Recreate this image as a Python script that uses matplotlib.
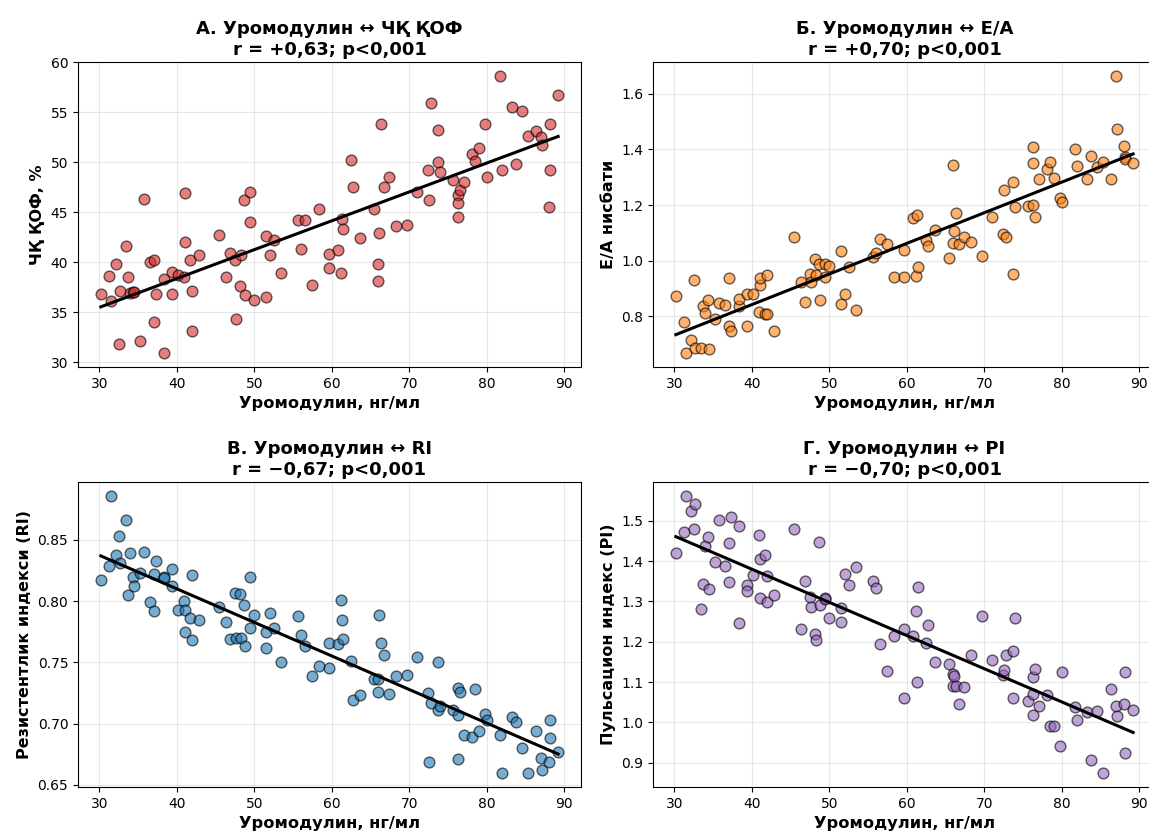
import numpy as np
import matplotlib
matplotlib.use("Agg")
import matplotlib.pyplot as plt

# Uromodulin (ng/ml), shared by all four panels
uromodulin = [30.2, 31.2, 31.5, 32.1, 32.6, 32.7, 33.4, 33.75, 34.0, 34.4,
              34.5, 35.3, 35.8, 36.5, 37.0, 37.1, 37.3, 38.4, 38.4, 39.35,
              39.35, 40.2, 40.9, 41.0, 41.0, 41.7, 41.9, 42.0, 42.8, 45.5,
              46.3, 46.9, 47.5, 47.6, 48.2, 48.3, 48.7, 48.75, 49.5, 49.5,
              49.9, 51.5, 51.5, 52.0, 52.6, 53.4, 55.7, 56.0, 56.5, 57.5,
              58.4, 59.6, 59.6, 60.8, 61.2, 61.3, 61.4, 62.5, 62.75, 63.65,
              65.5, 65.9, 65.9, 66.1, 66.4, 66.7, 67.4, 68.3, 69.7, 71.0,
              72.4, 72.5, 72.8, 73.7, 73.75, 74.0, 75.6, 76.3, 76.3, 76.3,
              76.6, 77.1, 78.1, 78.5, 79.0, 79.7, 80.0, 81.75, 82.0, 83.25,
              83.8, 84.6, 85.3, 86.4, 87.0, 87.1, 88.0, 88.2, 88.2, 89.2]

# A. LV ejection fraction, %
lvef = [36.8, 38.6, 36.1, 39.8, 31.8, 37.1, 41.6, 38.5, 36.9, 37.0,
        37.0, 32.1, 46.3, 40.0, 34.0, 40.2, 36.8, 38.3, 30.9, 39.0,
        36.8, 38.7, 38.5, 46.9, 42.0, 40.2, 33.1, 37.1, 40.7, 42.7,
        38.5, 40.9, 40.2, 34.3, 37.6, 40.7, 46.2, 36.7, 47.0, 44.0,
        36.2, 42.6, 36.5, 40.7, 42.2, 38.9, 44.2, 41.3, 44.2, 37.7,
        45.3, 40.8, 39.4, 41.2, 38.9, 44.3, 43.3, 50.2, 47.5, 42.4,
        45.3, 39.8, 38.1, 42.9, 53.8, 47.5, 48.5, 43.6, 43.7, 47.0,
        49.2, 46.2, 55.9, 50.0, 53.2, 49.0, 48.2, 46.7, 45.9, 44.5,
        47.2, 48.0, 50.8, 50.1, 51.4, 53.8, 48.5, 58.6, 49.2, 55.5,
        49.8, 55.1, 52.6, 53.1, 52.5, 51.7, 45.5, 53.8, 49.2, 56.7]

# B. E/A ratio
ea_ratio = [0.874, 0.780, 0.667, 0.713, 0.929, 0.684, 0.684, 0.835, 0.813, 0.859,
            0.681, 0.790, 0.847, 0.840, 0.766, 0.938, 0.747, 0.836, 0.862, 0.764,
            0.881, 0.881, 0.814, 0.914, 0.938, 0.808, 0.807, 0.947, 0.747, 1.085,
            0.923, 0.851, 0.952, 0.923, 1.006, 0.950, 0.988, 0.859, 0.989, 0.940,
            0.982, 1.034, 0.843, 0.880, 0.977, 0.823, 1.013, 1.029, 1.079, 1.060,
            0.941, 0.940, 1.037, 1.153, 0.944, 1.166, 0.976, 1.075, 1.051, 1.109,
            1.010, 1.065, 1.344, 1.108, 1.171, 1.061, 1.084, 1.067, 1.018, 1.156,
            1.097, 1.254, 1.086, 1.284, 0.952, 1.192, 1.195, 1.408, 1.353, 1.201,
            1.156, 1.293, 1.329, 1.354, 1.299, 1.224, 1.212, 1.401, 1.339, 1.295,
            1.376, 1.338, 1.356, 1.295, 1.665, 1.473, 1.413, 1.374, 1.364, 1.353]

# C. Resistive index
ri = [0.817, 0.829, 0.886, 0.838, 0.853, 0.831, 0.866, 0.805, 0.839, 0.820,
      0.812, 0.823, 0.840, 0.799, 0.792, 0.822, 0.833, 0.820, 0.819, 0.826,
      0.8125, 0.793, 0.800, 0.793, 0.775, 0.786, 0.768, 0.821, 0.785, 0.795,
      0.783, 0.769, 0.807, 0.770, 0.806, 0.770, 0.797, 0.763, 0.820, 0.778,
      0.789, 0.775, 0.762, 0.7905, 0.778, 0.7506, 0.788, 0.7726, 0.763, 0.739,
      0.747, 0.745, 0.766, 0.765, 0.801, 0.7845, 0.769, 0.751, 0.719, 0.723,
      0.7364, 0.736, 0.726, 0.789, 0.766, 0.756, 0.724, 0.739, 0.740, 0.754,
      0.725, 0.669, 0.717, 0.7506, 0.711, 0.714, 0.711, 0.707, 0.729, 0.671,
      0.7256, 0.691, 0.689, 0.728, 0.694, 0.708, 0.703, 0.691, 0.660, 0.705,
      0.701, 0.680, 0.6595, 0.694, 0.672, 0.662, 0.669, 0.7025, 0.688, 0.677]

# D. Pulsatility index
pi = [1.420, 1.472, 1.562, 1.525, 1.480, 1.543, 1.282, 1.344, 1.437, 1.459,
      1.331, 1.398, 1.502, 1.389, 1.348, 1.445, 1.509, 1.486, 1.246, 1.342,
      1.326, 1.366, 1.466, 1.406, 1.308, 1.416, 1.298, 1.363, 1.317, 1.480,
      1.232, 1.351, 1.311, 1.286, 1.220, 1.205, 1.447, 1.292, 1.308, 1.305,
      1.260, 1.283, 1.249, 1.369, 1.340, 1.385, 1.350, 1.334, 1.195, 1.127,
      1.215, 1.060, 1.231, 1.214, 1.277, 1.101, 1.335, 1.196, 1.241, 1.150,
      1.144, 1.090, 1.119, 1.116, 1.091, 1.045, 1.087, 1.168, 1.265, 1.155,
      1.117, 1.131, 1.168, 1.176, 1.060, 1.260, 1.054, 1.071, 1.019, 1.112,
      1.133, 1.040, 1.067, 0.992, 0.992, 0.941, 1.124, 1.037, 1.007, 1.025,
      0.906, 1.028, 0.874, 1.083, 1.040, 1.016, 1.045, 1.124, 0.924, 1.031]

titles = ["А. Уромодулин ↔ ЧҚ ҚОФ\nr = +0,63; p<0,001",
          "Б. Уромодулин ↔ E/A\nr = +0,70; p<0,001",
          "В. Уромодулин ↔ RI\nr = −0,67; p<0,001",
          "Г. Уромодулин ↔ PI\nr = −0,70; p<0,001"]
ylabels = ["ЧҚ ҚОФ, %", "E/A нисбати", "Резистентлик индекси (RI)",
           "Пульсацион индекс (PI)"]
xlabel = "Уромодулин, нг/мл"
colors = ["tab:red", "tab:orange", "tab:blue", "tab:purple"]
yseries = [lvef, ea_ratio, ri, pi]
yticks = [np.arange(30, 61, 5), np.arange(0.8, 1.61, 0.2),
          np.arange(0.65, 0.851, 0.05), np.arange(0.9, 1.51, 0.1)]
yfmt = ["{:.0f}", "{:.1f}", "{:.2f}", "{:.1f}"]

W, H = 1149, 834
fig = plt.figure(figsize=(W / 100, H / 100), dpi=100)
# axes boxes in pixels: left, top, right, bottom
boxes = [(78, 62, 581, 367), (653, 62, 1156, 367),
         (78, 482, 581, 787), (653, 482, 1156, 787)]

x = np.array(uromodulin)
for i in range(4):
    l, t, r, b = boxes[i]
    ax = fig.add_axes([l / W, 1 - b / H, (r - l) / W, (b - t) / H])
    y = np.array(yseries[i])
    ax.scatter(x, y, s=60, color=colors[i], alpha=0.6, edgecolor="black",
               linewidth=1, zorder=3)
    k, c = np.polyfit(x, y, 1)
    xx = np.array([x.min(), x.max()])
    ax.plot(xx, k * xx + c, color="black", lw=2.2, zorder=4)
    ax.set_title(titles[i], fontsize=13, fontweight="bold", pad=5)
    ax.set_xlabel(xlabel, fontsize=11.7, fontweight="bold")
    ax.set_ylabel(ylabels[i], fontsize=11.5, fontweight="bold")
    ax.set_xticks([30, 40, 50, 60, 70, 80, 90])
    ax.set_yticks(yticks[i])
    ax.set_yticklabels([yfmt[i].format(v) for v in yticks[i]])
    ax.tick_params(labelsize=10)
    ax.grid(True, alpha=0.3)
    ax.set_axisbelow(True)

fig.savefig("out.png", dpi=100)
